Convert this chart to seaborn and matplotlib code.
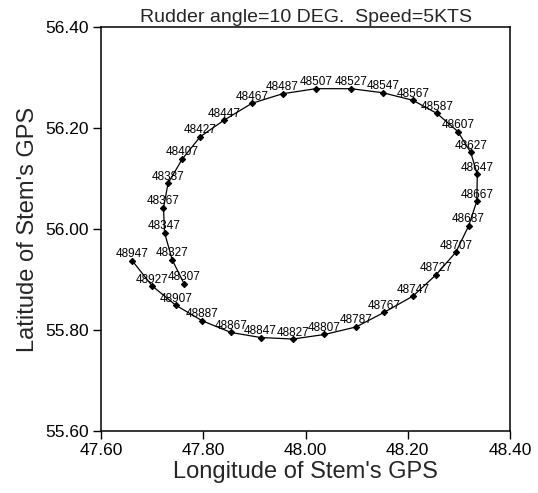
import matplotlib
matplotlib.use("Agg")
import matplotlib.pyplot as plt
import seaborn as sns
import pandas as pd

# GPS track of the stem, one point every 20 samples
sample_ids = list(range(48307, 48948, 20))
longitude = [47.762, 47.739, 47.724, 47.722, 47.731, 47.759, 47.794, 47.841,
             47.895, 47.955, 48.020, 48.089, 48.151, 48.210, 48.257, 48.298,
             48.323, 48.336, 48.335, 48.319, 48.294, 48.255, 48.210, 48.154,
             48.099, 48.037, 47.975, 47.912, 47.854, 47.798, 47.746, 47.700,
             47.661]
latitude = [55.892, 55.939, 55.993, 56.042, 56.091, 56.139, 56.183, 56.216,
            56.249, 56.268, 56.278, 56.278, 56.270, 56.255, 56.229, 56.193,
            56.152, 56.108, 56.055, 56.006, 55.954, 55.909, 55.867, 55.835,
            55.806, 55.791, 55.782, 55.785, 55.795, 55.818, 55.849, 55.887,
            55.937]
x_ticks = [47.60, 47.80, 48.00, 48.20, 48.40]
y_ticks = [55.60, 55.80, 56.00, 56.20, 56.40]

df = pd.DataFrame({"id": sample_ids, "lon": longitude, "lat": latitude})

sns.set_style("ticks")
plt.rcParams["font.family"] = ["Liberation Sans", "DejaVu Sans"]

fig = plt.figure(figsize=(5.38, 4.93), dpi=100)
ax = fig.add_axes([0.188, 0.126, 0.760, 0.819])

sns.lineplot(data=df, x="lon", y="lat", sort=False, estimator=None,
             color="black", linewidth=0.9, marker="D", markersize=3.2,
             markeredgecolor="black", ax=ax)

# sample number written just above each point
for sid, lon, lat in zip(sample_ids, longitude, latitude):
    ax.annotate(str(sid), (lon, lat), xytext=(0, 2.5),
                textcoords="offset points", ha="center", va="baseline",
                fontsize=8.5, color="black")

ax.set_xlim(47.60, 48.40)
ax.set_ylim(55.60, 56.40)
ax.set_xticks(x_ticks)
ax.set_yticks(y_ticks)
ax.set_xticklabels([f"{v:.2f}" for v in x_ticks])
ax.set_yticklabels([f"{v:.2f}" for v in y_ticks])
ax.tick_params(direction="out", length=6, width=1, labelsize=12.5, pad=3,
               colors="black")

for s in ax.spines.values():
    s.set_visible(True)
    s.set_color("black")
    s.set_linewidth(1.1)

ax.set_title("Rudder angle=10 DEG.  Speed=5KTS", fontsize=14, pad=4)
ax.set_xlabel("Longitude of Stem's GPS", fontsize=17, labelpad=2)
ax.set_ylabel("Latitude of Stem's GPS", fontsize=17, labelpad=4)

fig.savefig("out.png", dpi=100)
